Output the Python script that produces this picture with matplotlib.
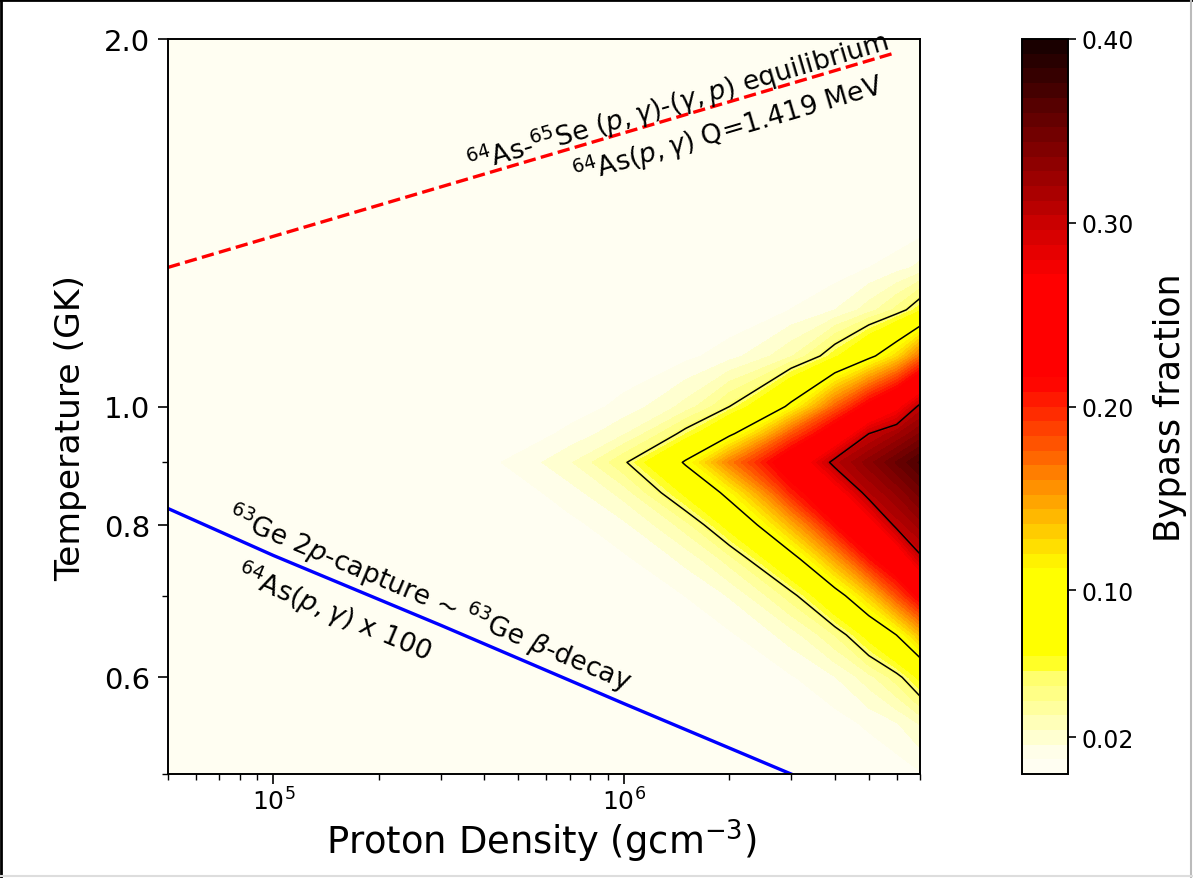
import numpy as np
import matplotlib
matplotlib.use("Agg")
import matplotlib.pyplot as plt
from matplotlib.colors import LinearSegmentedColormap
from matplotlib.ticker import NullFormatter
from matplotlib.lines import Line2D

# ---------------- data ----------------
density = [5e4, 1e5, 2e5, 3e5, 4.5e5, 7e5, 1e6, 1.5e6, 2e6, 3e6, 4e6, 5e6, 6e6, 7e6]
temperature = [0.50, 0.55, 0.60, 0.65, 0.70, 0.75, 0.80, 0.85, 0.90, 0.95,
               1.00, 1.10, 1.20, 1.30, 1.40, 1.60, 2.00]

# bypass fraction, one row per temperature (columns follow `density`)
bf_050 = [0, 0, 0, 0, 0, 0, 0, 0, 0, 0, 0, 0, 0.0032, 0.0070]
bf_055 = [0, 0, 0, 0, 0, 0, 0, 0, 0, 0, 0.0044, 0.0098, 0.0154, 0.0249]
bf_060 = [0, 0, 0, 0, 0, 0, 0, 0, 0, 0.0072, 0.0156, 0.0289, 0.0447, 0.0681]
bf_065 = [0, 0, 0, 0, 0, 0, 0, 0.0008, 0.0068, 0.0200, 0.0405, 0.0709, 0.1003, 0.1387]
bf_070 = [0, 0, 0, 0, 0, 0, 0, 0.0082, 0.0167, 0.0448, 0.0874, 0.1316, 0.1815, 0.2232]
bf_075 = [0, 0, 0, 0, 0, 0, 0.0066, 0.0185, 0.0363, 0.0891, 0.1488, 0.2070, 0.2460, 0.2960]
bf_080 = [0, 0, 0, 0, 0, 0.0056, 0.0143, 0.0366, 0.0712, 0.1430, 0.2130, 0.2585, 0.3070, 0.3240]
bf_085 = [0, 0, 0, 0, 0.0027, 0.0125, 0.0276, 0.0680, 0.1095, 0.2010, 0.2580, 0.3110, 0.3300, 0.3480]
bf_090 = [0, 0, 0, 0, 0.0082, 0.0228, 0.0477, 0.1036, 0.1630, 0.2440, 0.3090, 0.3330, 0.3530, 0.3700]
bf_095 = [0, 0, 0, 0, 0.0011, 0.0104, 0.0231, 0.0553, 0.0942, 0.1790, 0.2400, 0.3000, 0.3190, 0.3370]
bf_100 = [0, 0, 0, 0, 0, 0.0031, 0.0109, 0.0271, 0.0499, 0.1064, 0.1740, 0.2256, 0.2620, 0.3060]
bf_110 = [0, 0, 0, 0, 0, 0, 0, 0.0057, 0.0128, 0.0310, 0.0611, 0.0928, 0.1250, 0.1680]
bf_120 = [0, 0, 0, 0, 0, 0, 0, 0, 0, 0.0082, 0.0160, 0.0283, 0.0425, 0.0614]
bf_130 = [0, 0, 0, 0, 0, 0, 0, 0, 0, 0, 0.0029, 0.0079, 0.0127, 0.0181]
bf_140 = [0, 0, 0, 0, 0, 0, 0, 0, 0, 0, 0, 0, 0.0008, 0.0044]
bf_160 = [0, 0, 0, 0, 0, 0, 0, 0, 0, 0, 0, 0, 0, 0]
bf_200 = [0, 0, 0, 0, 0, 0, 0, 0, 0, 0, 0, 0, 0, 0]

contour_levels = [0.05, 0.10, 0.30]
cbar_ticks = [0.02, 0.10, 0.20, 0.30, 0.40]

# 64As-65Se (p,g)-(g,p) equilibrium line
equil_density = [5e4, 6e6]
equil_temp = [1.30, 1.95]

# 63Ge 2p-capture ~ beta-decay line
gecap_density = [5e4, 1e5, 3e5, 1e6, 3e6]
gecap_temp = [0.825, 0.755, 0.662, 0.571, 0.50]

# ---------------- figure ----------------
W, H = 1193, 879
fig = plt.figure(figsize=(W / 100, H / 100), dpi=100)
ax = fig.add_axes([168 / W, 1 - 775 / H, (920 - 168) / W, (775 - 40) / H])
cax = fig.add_axes([1022 / W, 1 - 775 / H, 46 / W, (775 - 40) / H])

cmap = LinearSegmentedColormap.from_list(
    "bypass",
    [(0.0, (1.0, 0.996, 0.95)), (0.02, (1.0, 0.996, 0.95)),
     (0.05, (1.0, 1.0, 0.80)), (0.09, (1.0, 1.0, 0.62)),
     (0.14, (1.0, 1.0, 0.38)), (0.155, (1.0, 1.0, 0.0)),
     (0.2775, (1.0, 1.0, 0.0)),
     (0.535, (1.0, 0.0, 0.0)), (0.675, (1.0, 0.0, 0.0)),
     (1.0, (0.08, 0.0, 0.0))])

Z = np.array([bf_050, bf_055, bf_060, bf_065, bf_070, bf_075, bf_080, bf_085,
              bf_090, bf_095, bf_100, bf_110, bf_120, bf_130, bf_140, bf_160, bf_200])
X, Y = np.meshgrid(density, temperature)

fill_levels = np.linspace(0.0, 0.4, 51)
cf = ax.contourf(X, Y, Z, levels=fill_levels, cmap=cmap, vmin=0, vmax=0.4)
ax.contour(X, Y, Z, levels=contour_levels, colors="black", linewidths=1.1)

ax.plot(equil_density, equil_temp, color="red", ls="--", lw=2.4)
ax.plot(gecap_density, gecap_temp, color="blue", lw=2.4)

ax.set_xscale("log")
ax.set_yscale("log")
ax.set_xlim(5e4, 7e6)
ax.set_ylim(0.5, 2.0)
ax.set_yticks([0.6, 0.8, 1.0, 2.0])
ax.set_yticklabels(["0.6", "0.8", "1.0", "2.0"])
ax.yaxis.set_minor_formatter(NullFormatter())
ax.xaxis.set_minor_formatter(NullFormatter())

for s in ax.spines.values():
    s.set_linewidth(1.4)
ax.tick_params(which="major", length=7, width=1.2, labelsize=21, pad=6)
ax.tick_params(axis="x", which="major", labelsize=18, pad=3)
ax.tick_params(which="minor", length=4.5, width=1.0)

ax.set_xlabel("Proton Density (gcm$^{-3}$)", fontsize=26.6)
ax.xaxis.set_label_coords(0.497, -0.059)
ax.set_ylabel("Temperature (GK)", fontsize=24.8)
ax.yaxis.set_label_coords(-0.1077, 0.472)

txt_kw = dict(ha="center", va="center", rotation_mode="anchor", fontsize=19.3)
ax.text(1.43e6, 1.777, r"$^{64}$As-$^{65}$Se $(p,\gamma)$-$(\gamma,p)$ equilibrium",
        rotation=16.4, **txt_kw)
ax.text(1.98e6, 1.686, r"$^{64}$As$(p,\gamma)$ Q=1.419 MeV", rotation=16.4, **txt_kw)
ax.text(2.79e5, 0.698, r"$^{63}$Ge 2$p$-capture ~ $^{63}$Ge $\beta$-decay",
        rotation=-22.8, **txt_kw)
ax.text(1.49e5, 0.679, r"$^{64}$As$(p,\gamma)$ x 100", rotation=-22.8, **txt_kw)

cb = fig.colorbar(cf, cax=cax, ticks=cbar_ticks, format="%.2f")
cb.outline.set_linewidth(1.4)
cax.tick_params(labelsize=17, length=6, width=1.2)
cb.set_label("Bypass fraction", fontsize=25, labelpad=14)

# screenshot frame
fig.add_artist(Line2D([0.001, 0.001], [0, 1], transform=fig.transFigure, color="black", lw=2))
fig.add_artist(Line2D([0, 1], [0.999, 0.999], transform=fig.transFigure, color="black", lw=2))
fig.add_artist(Line2D([0.998, 0.998], [0, 1], transform=fig.transFigure, color="#bbbbbb", lw=1.5))
fig.add_artist(Line2D([0, 1], [0.002, 0.002], transform=fig.transFigure, color="#dddddd", lw=1.5))

fig.savefig("out.png", dpi=100)
